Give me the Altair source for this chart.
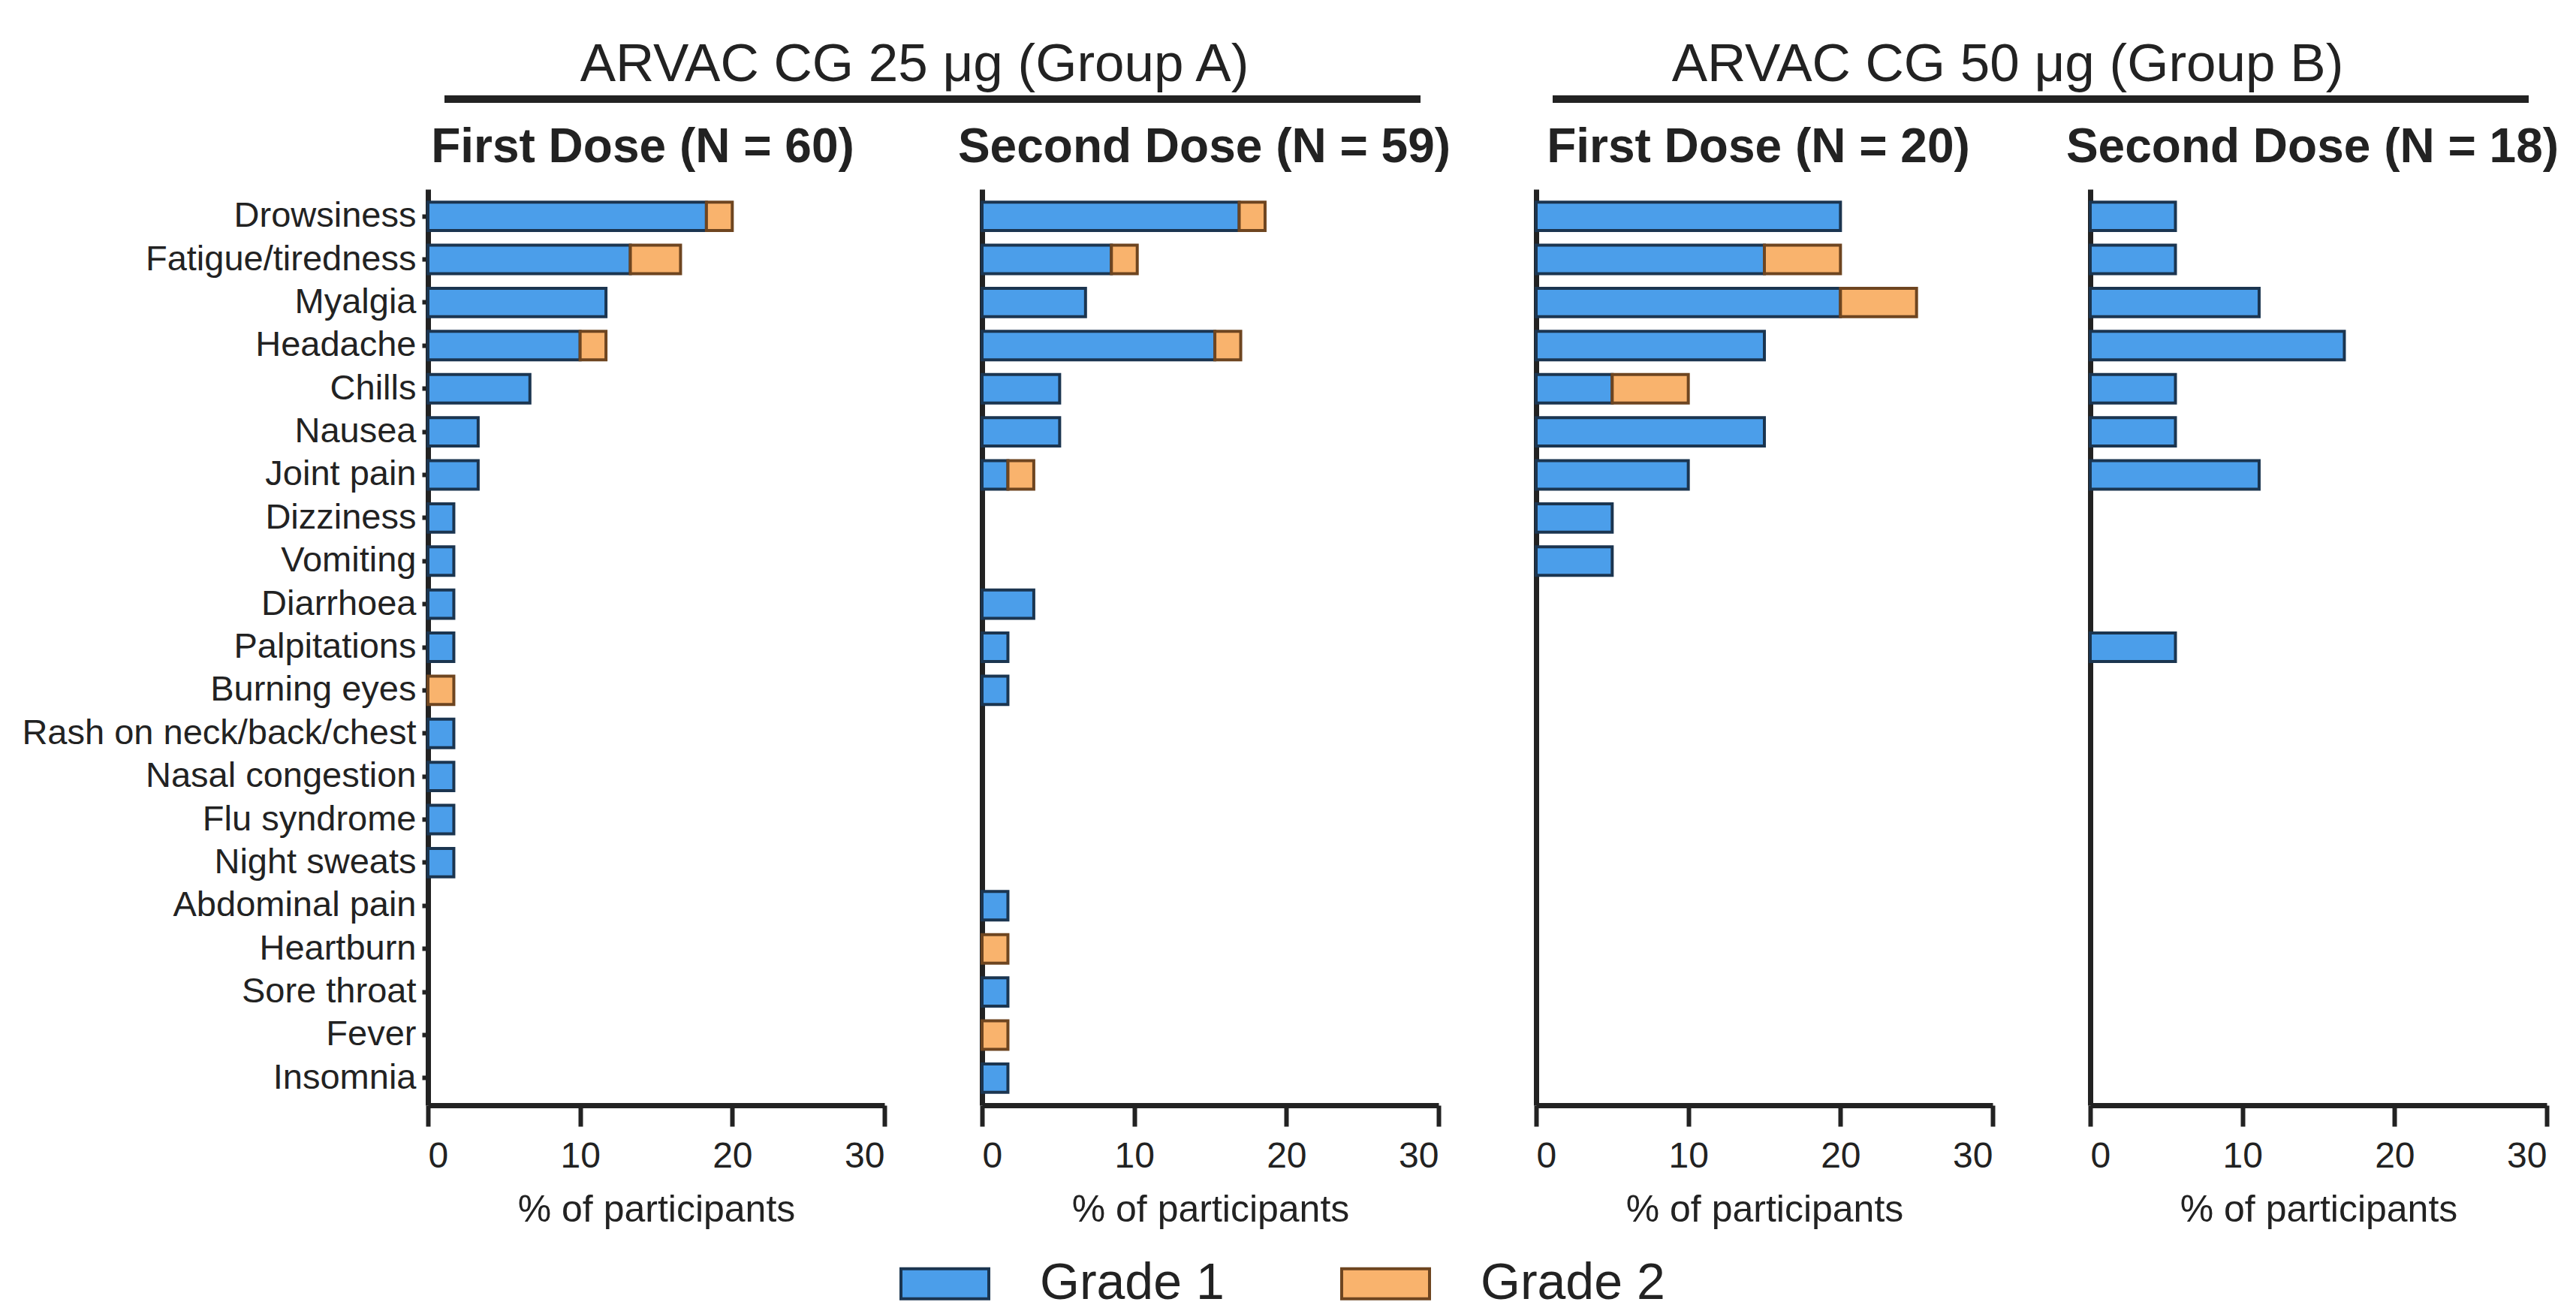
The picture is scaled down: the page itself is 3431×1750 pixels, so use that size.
import altair as alt
import pandas as pd

symptoms = ["Drowsiness", "Fatigue/tiredness", "Myalgia", "Headache", "Chills", "Nausea",
            "Joint pain", "Dizziness", "Vomiting", "Diarrhoea", "Palpitations", "Burning eyes",
            "Rash on neck/back/chest", "Nasal congestion", "Flu syndrome", "Night sweats",
            "Abdominal pain", "Heartburn", "Sore throat", "Fever", "Insomnia"]

grades = ["Grade 1", "Grade 2"]

# % of participants, ARVAC CG 25 µg, first dose (N = 60)
a1_g1 = [18.3, 13.3, 11.7, 10.0, 6.7, 3.3, 3.3, 1.7, 1.7, 1.7, 1.7, 0, 1.7, 1.7, 1.7, 1.7, 0, 0, 0, 0, 0]
a1_g2 = [1.7, 3.3, 0, 1.7, 0, 0, 0, 0, 0, 0, 0, 1.7, 0, 0, 0, 0, 0, 0, 0, 0, 0]
# ARVAC CG 25 µg, second dose (N = 59)
a2_g1 = [16.9, 8.5, 6.8, 15.3, 5.1, 5.1, 1.7, 0, 0, 3.4, 1.7, 1.7, 0, 0, 0, 0, 1.7, 0, 1.7, 0, 1.7]
a2_g2 = [1.7, 1.7, 0, 1.7, 0, 0, 1.7, 0, 0, 0, 0, 0, 0, 0, 0, 0, 0, 1.7, 0, 1.7, 0]
# ARVAC CG 50 µg, first dose (N = 20)
b1_g1 = [20, 15, 20, 15, 5, 15, 10, 5, 5, 0, 0, 0, 0, 0, 0, 0, 0, 0, 0, 0, 0]
b1_g2 = [0, 5, 5, 0, 5, 0, 0, 0, 0, 0, 0, 0, 0, 0, 0, 0, 0, 0, 0, 0, 0]
# ARVAC CG 50 µg, second dose (N = 18)
b2_g1 = [5.6, 5.6, 11.1, 16.7, 5.6, 5.6, 11.1, 0, 0, 0, 5.6, 0, 0, 0, 0, 0, 0, 0, 0, 0, 0]
b2_g2 = [0] * 21

panel_titles = ["First Dose (N = 60)", "Second Dose (N = 59)", "First Dose (N = 20)", "Second Dose (N = 18)"]
group_titles = ["ARVAC CG 25 \u03bcg (Group A)", "ARVAC CG 50 \u03bcg (Group B)"]
x_ticks = [0, 10, 20, 30]

series = [(a1_g1, a1_g2), (a2_g1, a2_g2), (b1_g1, b1_g2), (b2_g1, b2_g2)]
rows = []
for p, (g1, g2) in enumerate(series):
    for i, s in enumerate(symptoms):
        rows.append({"panel": p, "symptom": s, "grade": "Grade 1", "gorder": 1, "value": g1[i]})
        rows.append({"panel": p, "symptom": s, "grade": "Grade 2", "gorder": 2, "value": g2[i]})
df = pd.DataFrame(rows)

FONT = "Liberation Sans"
INK = "#222222"
PW, PH = 608, 1220

legend = alt.Legend(
    title=None, orient="none", legendX=628, legendY=1522, direction="horizontal",
    symbolType="M-1,-0.34L1,-0.34L1,0.34L-1,0.34Z", symbolSize=13689,
    symbolStrokeWidth=4, symbolOpacity=1, labelFontSize=68, labelColor=INK,
    labelOffset=66, columnPadding=148, labelFont=FONT, labelLimit=0,
)
color = alt.Color("grade:N", scale=alt.Scale(domain=grades, range=["#4b9eea", "#f9b36d"]), legend=legend)
stroke = alt.Stroke("grade:N", scale=alt.Scale(domain=grades, range=["#1b3550", "#6e4520"]), legend=legend)


def panel(p):
    first = p == 0
    yaxis = alt.Axis(
        title=None, labels=first, ticks=first, tickSize=8, labelPadding=8, labelLimit=0,
        labelFontSize=47, labelColor=INK, labelFont=FONT,
    )
    return (
        alt.Chart(df)
        .transform_filter(f"datum.panel == {p} && datum.value > 0")
        .mark_bar(strokeWidth=4)
        .encode(
            y=alt.Y("symptom:N", sort=symptoms, axis=yaxis,
                    scale=alt.Scale(domain=symptoms, paddingInner=0.34, paddingOuter=0.3)),
            x=alt.X("value:Q", stack="zero",
                    scale=alt.Scale(domain=[0, 30], nice=False),
                    axis=alt.Axis(values=x_ticks, title="% of participants", grid=False,
                                  tickSize=28, labelPadding=16, labelFontSize=48,
                                  titleFontSize=50, titleFontWeight="normal", titlePadding=22,
                                  labelColor=INK, titleColor=INK, labelFont=FONT, titleFont=FONT)),
            color=color,
            stroke=stroke,
            order=alt.Order("gorder:Q"),
        )
        .properties(
            width=PW, height=PH,
            title=alt.TitleParams(panel_titles[p], fontSize=64, fontWeight="bold", anchor="middle",
                                  frame="group", baseline="bottom", offset=21,
                                  dx=(-18 if first else -8), dy=62,
                                  color=INK, font=FONT),
        )
    )


hdr_df = pd.DataFrame({"g": [0]})


def header(k, dx):
    w = 2 * PW + 130
    return (
        alt.Chart(hdr_df)
        .mark_rule(strokeWidth=10, color=INK)
        .encode(x=alt.value(22), x2=alt.value(w - 24), y=alt.value(5))
        .properties(
            width=w, height=10,
            title=alt.TitleParams(group_titles[k], fontSize=71, fontWeight="normal", anchor="middle",
                                  frame="group", baseline="bottom", offset=5, dx=dx, dy=72,
                                  color=INK, font=FONT),
        )
    )


header_row = alt.hconcat(header(0, -25), header(1, -45), spacing=130, bounds="flush")
panel_row = alt.hconcat(*[panel(p) for p in range(4)], spacing=130, bounds="flush")

chart = (
    alt.vconcat(header_row, panel_row, spacing=125, bounds="flush")
    .configure(padding={"top": 43, "left": 20, "right": 0, "bottom": 0}, font=FONT)
    .configure_view(stroke=None)
    .configure_axis(domainColor=INK, domainWidth=7, tickColor=INK, tickWidth=6)
)

chart.save("out.html", embed_options={"renderer": "svg", "actions": False})
